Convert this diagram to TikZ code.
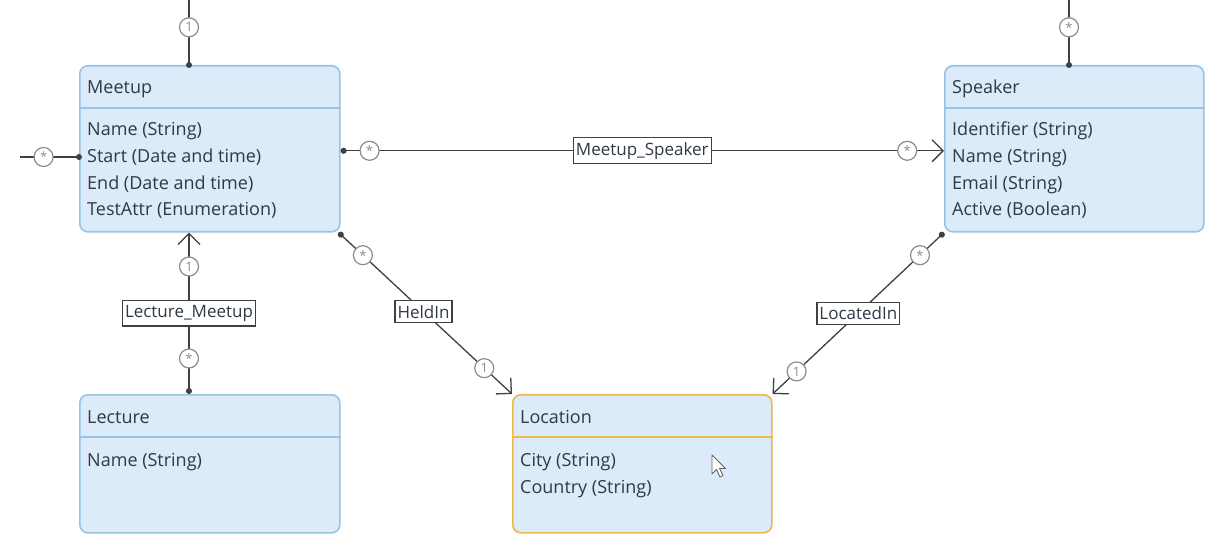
\documentclass[tikz,border=0pt]{standalone}
\usepackage{fontspec}
\setmainfont{Open Sans}
\usetikzlibrary{arrows.meta,calc}
\definecolor{boxfill}{HTML}{DCEBF9}
\definecolor{boxline}{HTML}{98C3E4}
\definecolor{selline}{HTML}{EDB94B}
\definecolor{circline}{HTML}{8C8C8C}
\definecolor{conline}{HTML}{404040}
\definecolor{txt}{HTML}{2E3A46}
\newcommand{\many}{\raisebox{-0.28em}{*}}
\tikzset{
  entity/.style={draw=boxline, line width=1.6pt, fill=boxfill, rounded corners=8pt,
    anchor=north west, inner sep=0pt},
  selentity/.style={entity, draw=selline},
  divider/.style={draw=boxline, line width=2pt},
  seldivider/.style={draw=selline, line width=2pt},
  etitle/.style={anchor=base west, inner sep=0pt, text=txt, font=\fontsize{18}{20}\selectfont},
  eattr/.style={etitle},
  conn/.style={draw=conline, line width=1.3pt},
  mult/.style={circle, draw=circline, fill=white, line width=1.2pt, minimum size=19pt,
    inner sep=0pt, text=circline, font=\fontsize{13}{13}\selectfont},
  lbl/.style={draw=conline, fill=white, line width=1.2pt, inner xsep=2.5pt, inner ysep=4.5pt,
    text=txt, font=\fontsize{17}{19}\selectfont},
  srctgt/.style={{Circle[length=6pt]}-{Straight Barb[length=11pt,width=22pt,line width=1.3pt]}},
}
\begin{document}
\begin{tikzpicture}[x=1pt,y=-1pt]
\useasboundingbox (0,0) rectangle (1217,534);
\fill[white] (0,0) rectangle (1217,534);

% Entities
\node[entity, minimum width=260pt, minimum height=166pt] (meetup) at (79,65) {};
\node[entity, minimum width=259pt, minimum height=166pt] (speaker) at (944,65) {};
\node[entity, minimum width=260pt, minimum height=138pt] (lecture) at (79,394) {};
\node[selentity, minimum width=259pt, minimum height=138pt] (location) at (512,394) {};

\draw[divider] ($(meetup.north west)+(0,43)$) -- ($(meetup.north east)+(0,43)$);
\draw[divider] ($(speaker.north west)+(0,43)$) -- ($(speaker.north east)+(0,43)$);
\draw[divider] ($(lecture.north west)+(0,43)$) -- ($(lecture.north east)+(0,43)$);
\draw[seldivider] ($(location.north west)+(0,43)$) -- ($(location.north east)+(0,43)$);

% Texts
\node[etitle] (mt) at (87,94) {Meetup};
\node[eattr] (ma1) at (87,136) {Name (String)};
\node[eattr] (ma2) at (87,163) {Start (Date and time)};
\node[eattr] (ma3) at (87,190) {End (Date and time)};
\node[eattr] (ma4) at (87,216) {TestAttr (Enumeration)};

\node[etitle] (st) at (952,94) {Speaker};
\node[eattr] (sa1) at (952,136) {Identifier (String)};
\node[eattr] (sa2) at (952,163) {Name (String)};
\node[eattr] (sa3) at (952,190) {Email (String)};
\node[eattr] (sa4) at (952,216) {Active (Boolean)};

\node[etitle] (lt) at (87,423) {Lecture};
\node[eattr] (la1) at (87,466) {Name (String)};

\node[etitle] (ot) at (520,423) {Location};
\node[eattr] (oa1) at (520,466) {City (String)};
\node[eattr] (oa2) at (520,493) {Country (String)};

% free ends
\coordinate (mtop) at (189,0);
\coordinate (mleft) at (20,157);
\coordinate (stop) at (1069,0);

% Connectors
\draw[conn] (mtop) -- node[mult, pos=0.42] {1} ($(meetup.north west)+(110,0)$);
\fill[conline] ($(meetup.north west)+(110,0)$) circle (3pt);

\draw[conn] (mleft) -- node[mult, pos=0.4] {\many} ($(meetup.north west)+(0,92)$);
\fill[conline] ($(meetup.north west)+(0,92)$) circle (3pt);

\draw[conn] (stop) -- node[mult, pos=0.42] {\many} ($(speaker.north west)+(125,0)$);
\fill[conline] ($(speaker.north west)+(125,0)$) circle (3pt);

\draw[conn, srctgt] ($(meetup.east)+(0,2)$) -- node[mult, pos=0.048] {\many}
  node[lbl, pos=0.5] (lms) {Meetup\_Speaker}
  node[mult, pos=0.939] {\many} ($(speaker.west)+(0,2)$);

\draw[conn, srctgt] ($(lecture.north west)+(110,0)$) -- node[mult, pos=0.22] {\many}
  node[lbl, pos=0.5] (llm) {Lecture\_Meetup}
  node[mult, pos=0.79] {1} ($(meetup.south west)+(110,0)$);

\draw[conn, srctgt] ($(meetup.south east)+(-2,0)$) -- node[mult, pos=0.14] {\many}
  node[lbl, pos=0.49] (lhi) {HeldIn}
  node[mult, pos=0.84] {1} (location.north west);

\draw[conn, srctgt] (speaker.south west) -- node[mult, pos=0.14] {\many}
  node[lbl, pos=0.5] (lli) {LocatedIn}
  node[mult, pos=0.86] {1} (location.north east);

% mouse cursor
\draw[draw=gray!80!black, fill=white, line width=0.9pt, line join=round]
  (712,455) -- (712,474) -- (716.5,469.5) -- (720,477) -- (723,475.5) -- (719.5,468.5) -- (725.5,468.5) -- cycle;
\end{tikzpicture}
\end{document}
